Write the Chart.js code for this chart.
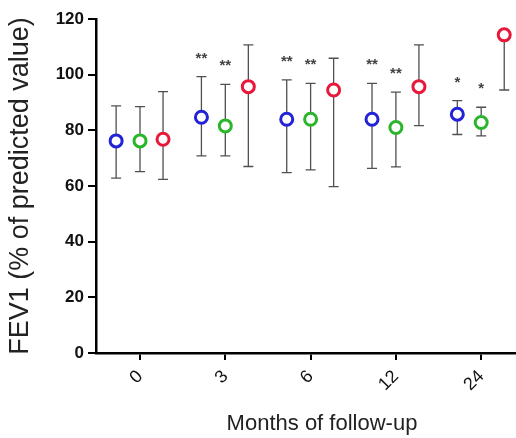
<!DOCTYPE html>
<html>
<head>
<meta charset="utf-8">
<script src="https://cdn.jsdelivr.net/npm/chart.js@4/dist/chart.umd.min.js"></script>
<style>
  html, body { margin: 0; padding: 0; background: #ffffff; }
  #c { display: block; }
</style>
</head>
<body>
<canvas id="c" width="516" height="438"></canvas>
<script>
// ---- data ----
const months = ['0', '3', '6', '12', '24'];
const yTicks = [0, 20, 40, 60, 80, 100, 120];
const xTitle = 'Months of follow-up';
const yTitle = 'FEV1 (% of predicted value)';

const blueMean  = [76.2, 84.7, 84.0, 84.0, 85.8];
const blueUpper = [88.8, 99.3, 98.1, 96.9, 90.7];
const blueLower = [62.8, 70.8, 64.8, 66.3, 78.5];
const blueStars = ['', '**', '**', '**', '*'];

const greenMean  = [76.2, 81.6, 84.0, 81.0, 82.8];
const greenUpper = [88.5, 96.5, 96.9, 93.7, 88.3];
const greenLower = [65.2, 70.8, 65.8, 66.9, 78.0];
const greenStars = ['', '**', '**', '**', '*'];

const redMean  = [76.8, 95.7, 94.5, 95.7, 114.3];
const redUpper = [93.9, 110.7, 105.9, 110.7, 114.3];
const redLower = [62.4, 67.0, 59.8, 81.7, 94.5];
const redStars = ['', '', '', '', ''];

// ---- chart building ----
const seriesDefs = [
  { mean: blueMean,  upper: blueUpper,  lower: blueLower,  stars: blueStars,  color: '#2222d6', shift: -0.28 },
  { mean: greenMean, upper: greenUpper, lower: greenLower, stars: greenStars, color: '#2bb52b', shift: 0.0 },
  { mean: redMean,   upper: redUpper,   lower: redLower,   stars: redStars,   color: '#e8183a', shift: 0.27 }
];

const datasets = seriesDefs.map((s, si) => ({
  label: 'Series ' + (si + 1),
  data: s.mean.map((v, i) => ({ x: i + s.shift, y: v, hi: s.upper[i], lo: s.lower[i], star: s.stars[i] })),
  showLine: false,
  pointRadius: 6,
  pointBorderWidth: 3,
  pointBorderColor: s.color,
  pointBackgroundColor: '#ffffff',
  clip: false
}));

const errorBars = {
  id: 'errorBars',
  beforeDatasetsDraw(chart) {
    const ctx = chart.ctx;
    const xs = chart.scales.x, ys = chart.scales.y;
    const area = chart.chartArea;
    ctx.save();
    ctx.beginPath();
    ctx.rect(area.left, area.top, area.right - area.left, area.bottom - area.top);
    ctx.clip();
    ctx.strokeStyle = '#505050';
    ctx.lineWidth = 1.3;
    chart.data.datasets.forEach(ds => {
      ds.data.forEach(p => {
        const x = xs.getPixelForValue(p.x);
        const yHi = ys.getPixelForValue(p.hi);
        const yLo = ys.getPixelForValue(p.lo);
        ctx.beginPath();
        ctx.moveTo(x, yHi); ctx.lineTo(x, yLo);
        if (p.hi !== p.y) { ctx.moveTo(x - 5, yHi); ctx.lineTo(x + 5, yHi); }
        if (p.lo !== p.y) { ctx.moveTo(x - 5, yLo); ctx.lineTo(x + 5, yLo); }
        ctx.stroke();
      });
    });
    ctx.restore();
  },
  afterDatasetsDraw(chart) {
    const ctx = chart.ctx;
    const xs = chart.scales.x, ys = chart.scales.y;
    ctx.save();
    ctx.fillStyle = '#444';
    ctx.font = 'bold 15px "Liberation Sans", Arial, sans-serif';
    ctx.textAlign = 'center';
    ctx.textBaseline = 'alphabetic';
    chart.data.datasets.forEach(ds => {
      ds.data.forEach(p => {
        if (!p.star) return;
        const x = xs.getPixelForValue(p.x);
        const yHi = ys.getPixelForValue(p.hi);
        ctx.fillText(p.star, x, yHi - 14);
      });
    });
    ctx.restore();
  },
  afterDraw(chart) {
    // x-axis title, placed as in the reference (slightly right of the axis centre)
    const ctx = chart.ctx;
    const xs = chart.scales.x;
    ctx.save();
    ctx.fillStyle = '#222';
    ctx.font = '22px "Liberation Sans", Arial, sans-serif';
    ctx.textAlign = 'center';
    ctx.textBaseline = 'middle';
    ctx.fillText(xTitle, (xs.left + xs.right) / 2 + 16, xs.bottom - 14);
    ctx.restore();
  }
};

new Chart(document.getElementById('c'), {
  type: 'scatter',
  data: { datasets },
  plugins: [errorBars],
  options: {
    responsive: false,
    animation: false,
    layout: { autoPadding: false, padding: { top: 19, right: 0, left: 0, bottom: 0 } },
    plugins: { legend: { display: false }, tooltip: { enabled: false } },
    scales: {
      x: {
        type: 'linear',
        min: -0.516,
        max: 4.408,
        afterBuildTicks(scale) { scale.ticks = months.map((m, i) => ({ value: i })); },
        afterFit(scale) { scale.height = 85; scale.paddingRight = 0; scale.paddingLeft = 0; },
        ticks: {
          callback: (v) => months[v] !== undefined ? months[v] : '',
          minRotation: 45,
          maxRotation: 45,
          color: '#111',
          padding: 6,
          font: { family: '"Liberation Sans", Arial, sans-serif', size: 18 }
        },
        grid: { drawOnChartArea: false, drawTicks: true, tickLength: 7, color: '#000', lineWidth: 2 },
        border: { display: true, color: '#000', width: 2.5 },
        title: { display: false }
      },
      y: {
        min: 0,
        max: 120,
        afterBuildTicks(scale) { scale.ticks = yTicks.map(v => ({ value: v })); },
        afterFit(scale) { scale.width = 96; },
        ticks: {
          color: '#111',
          padding: 4,
          font: { family: '"Liberation Sans", Arial, sans-serif', size: 17, weight: 'bold' }
        },
        grid: { drawOnChartArea: false, drawTicks: true, tickLength: 8, color: '#000', lineWidth: 2 },
        border: { display: true, color: '#000', width: 2.5 },
        title: {
          display: true,
          text: yTitle,
          color: '#222',
          padding: { top: 4, bottom: 0 },
          font: { family: '"Liberation Sans", Arial, sans-serif', size: 27 }
        }
      }
    }
  }
});
</script>
</body>
</html>
